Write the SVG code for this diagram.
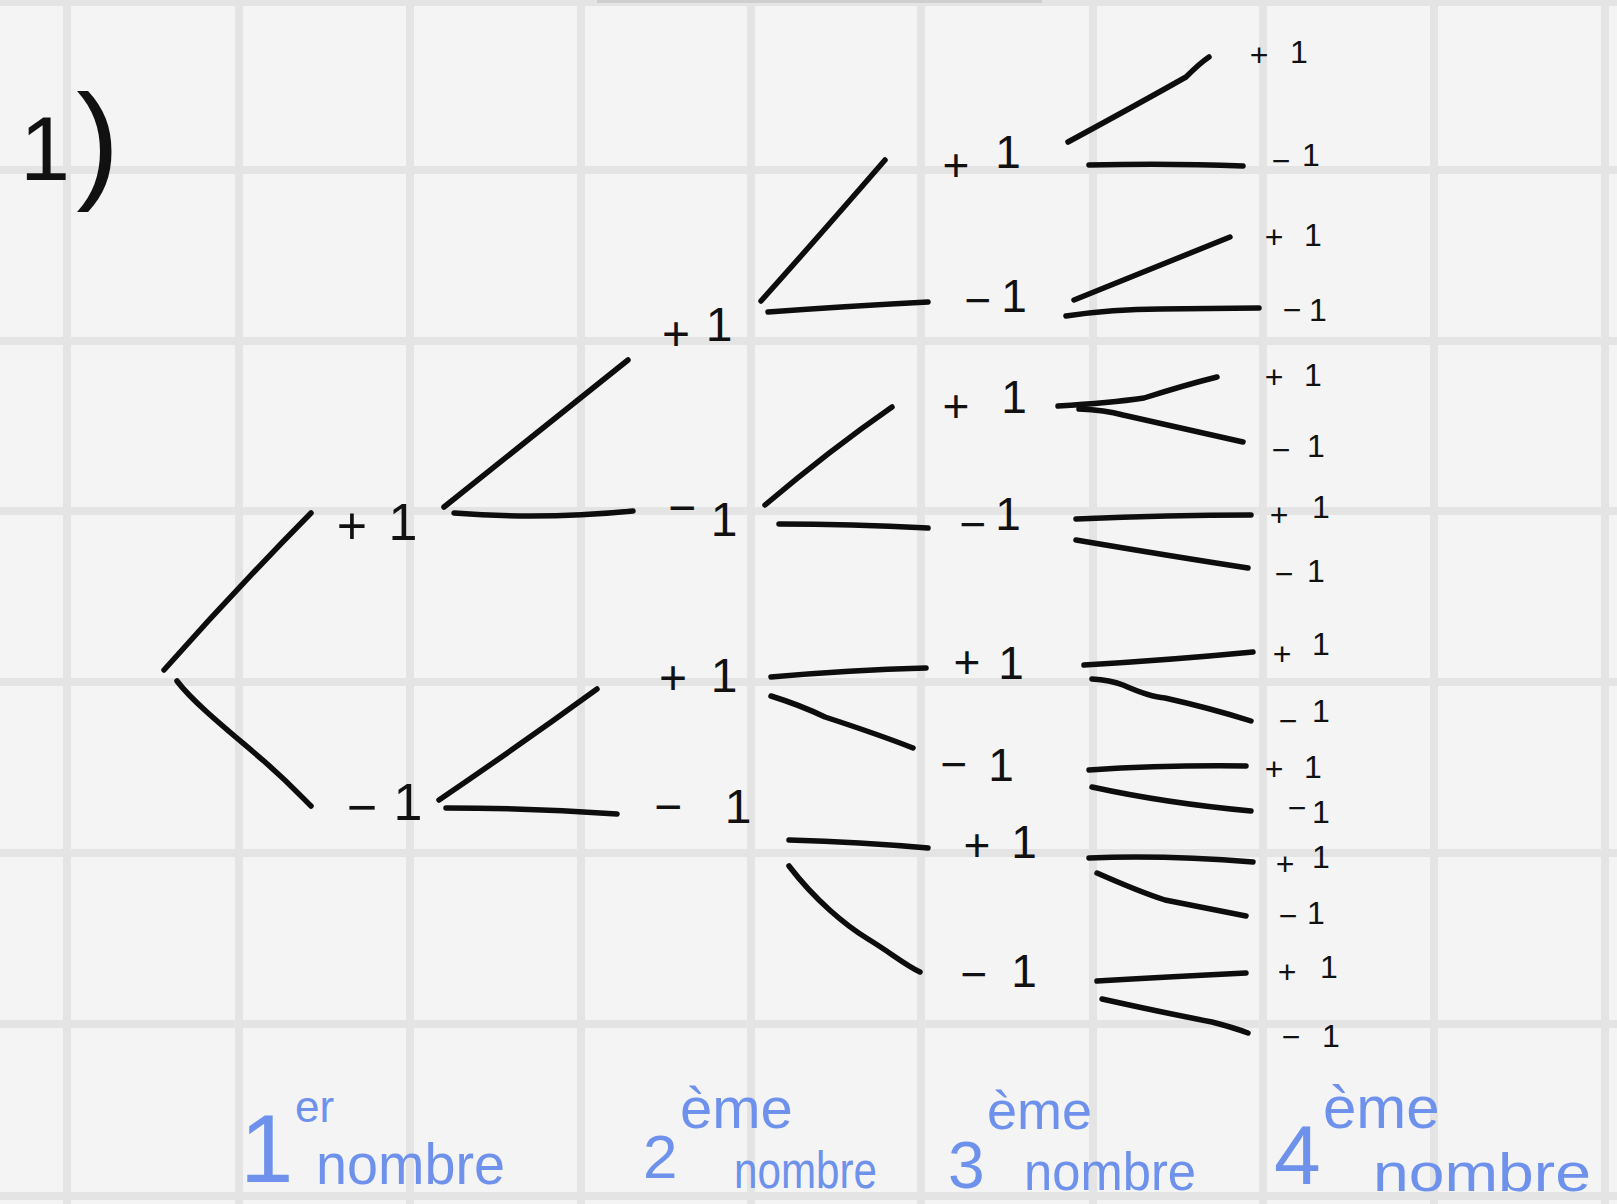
<svg xmlns="http://www.w3.org/2000/svg" width="1617" height="1204" viewBox="0 0 1617 1204">
<style>
.grid line{stroke:#e4e4e4;stroke-width:8}
.conn path{fill:none;stroke:#0d0d0d;stroke-width:5.5;stroke-linecap:round;stroke-linejoin:round}
.lbl{font-family:"Liberation Sans",Arial,sans-serif;fill:#111;text-anchor:middle}
.s1{font-size:52px}.s2{font-size:48px}.s3{font-size:46px}.s4{font-size:32px}
.blue{font-family:"Liberation Sans",Arial,sans-serif;fill:#6e91ec}
</style>
<rect width="1617" height="1204" fill="#f4f4f4"/>
<g class="grid">
<line x1="67" y1="0" x2="67" y2="1204"/><line x1="239" y1="0" x2="239" y2="1204"/><line x1="410" y1="0" x2="410" y2="1204"/><line x1="581" y1="0" x2="581" y2="1204"/><line x1="751" y1="0" x2="751" y2="1204"/><line x1="921" y1="0" x2="921" y2="1204"/><line x1="1093" y1="0" x2="1093" y2="1204"/><line x1="1263" y1="0" x2="1263" y2="1204"/><line x1="1434" y1="0" x2="1434" y2="1204"/><line x1="1605" y1="0" x2="1605" y2="1204"/>
<line x1="0" y1="2" x2="1617" y2="2"/><line x1="0" y1="170" x2="1617" y2="170"/><line x1="0" y1="341" x2="1617" y2="341"/><line x1="0" y1="511" x2="1617" y2="511"/><line x1="0" y1="682" x2="1617" y2="682"/><line x1="0" y1="853" x2="1617" y2="853"/><line x1="0" y1="1024" x2="1617" y2="1024"/><line x1="0" y1="1196" x2="1617" y2="1196"/>
</g>
<rect x="597" y="0" width="445" height="3" fill="#cfcfcf"/>

<g id="title"><text class="lbl" x="45" y="180" font-size="90">1<tspan x="98" y="185" font-size="130">)</tspan></text></g>

<g class="conn" id="connectors">
<path d="M164,670 Q235,590 311,513"/>
<path d="M177,681 C195,705 240,740 265,762 S300,795 311,806"/>
<path d="M444,507 L628,360"/>
<path d="M454,513 Q540,520 633,511"/>
<path d="M439,800 Q520,745 597,689"/>
<path d="M446,808 Q530,808 617,814"/>
<path d="M761,301 Q820,235 885,160"/>
<path d="M768,312 Q850,306 928,302"/>
<path d="M765,505 Q830,450 892,407"/>
<path d="M779,524 Q850,524 928,528"/>
<path d="M771,677 Q850,670 926,668"/>
<path d="M771,696 Q800,705 825,717 Q880,735 913,748"/>
<path d="M789,840 Q860,842 928,848"/>
<path d="M789,866 C815,900 845,925 868,939 S905,965 920,972"/>
<path d="M1068,142 Q1140,103 1186,77 Q1200,63 1209,57"/>
<path d="M1089,165 Q1170,163 1243,166"/>
<path d="M1074,300 L1230,237"/>
<path d="M1066,316 Q1113,309 1160,309 L1259,308"/>
<path d="M1058,406 Q1110,403 1144,398 Q1185,385 1217,377"/>
<path d="M1079,409 Q1105,410 1123,415 Q1190,430 1243,442"/>
<path d="M1076,519 Q1170,515 1251,515"/>
<path d="M1076,540 Q1170,556 1248,568"/>
<path d="M1084,665 Q1170,660 1253,652"/>
<path d="M1092,679 Q1110,680 1123,685 Q1150,697 1165,698 Q1210,708 1251,721"/>
<path d="M1089,770 Q1165,765 1246,766"/>
<path d="M1092,787 Q1165,803 1251,811"/>
<path d="M1089,858 Q1165,855 1253,862"/>
<path d="M1097,873 Q1140,892 1165,900 Q1215,910 1246,916"/>
<path d="M1097,981 Q1165,977 1246,973"/>
<path d="M1102,999 Q1165,1013 1212,1022 Q1235,1028 1248,1033"/>
</g>

<g id="n1p"><text class="lbl s1" x="352 403" y="544 540">+1</text></g>
<g id="n1m"><text class="lbl s1" x="362 408" y="825 820">−1</text></g>
<g id="n2pp"><text class="lbl s2" x="676 719" y="350 341">+1</text></g>
<g id="n2pm"><text class="lbl s2" x="682 724" y="524 536">−1</text></g>
<g id="n2mp"><text class="lbl s2" x="673 724" y="694 692">+1</text></g>
<g id="n2mm"><text class="lbl s2" x="668 738" y="823 823">−1</text></g>
<g id="n3a"><text class="lbl s3" x="956 1008" y="181 168">+1</text></g>
<g id="n3b"><text class="lbl s3" x="978 1014" y="316 312">−1</text></g>
<g id="n3c"><text class="lbl s3" x="956 1014" y="422 413">+1</text></g>
<g id="n3d"><text class="lbl s3" x="973 1008" y="540 530">−1</text></g>
<g id="n3e"><text class="lbl s3" x="967 1011" y="678 679">+1</text></g>
<g id="n3f"><text class="lbl s3" x="954 1001" y="780 781">−1</text></g>
<g id="n3g"><text class="lbl s3" x="977 1024" y="861 858">+1</text></g>
<g id="n3h"><text class="lbl s3" x="974 1024" y="990 987">−1</text></g>
<g id="n4a"><text class="lbl s4" x="1259 1299" y="66 63">+1</text></g>
<g id="n4b"><text class="lbl s4" x="1281 1311" y="172 166">−1</text></g>
<g id="n4c"><text class="lbl s4" x="1274 1313" y="248 246">+1</text></g>
<g id="n4d"><text class="lbl s4" x="1292 1318" y="321 321">−1</text></g>
<g id="n4e"><text class="lbl s4" x="1274 1313" y="388 386">+1</text></g>
<g id="n4f"><text class="lbl s4" x="1281 1316" y="461 457">−1</text></g>
<g id="n4g"><text class="lbl s4" x="1279 1321" y="526 518">+1</text></g>
<g id="n4h"><text class="lbl s4" x="1284 1316" y="585 582">−1</text></g>
<g id="n4i"><text class="lbl s4" x="1282 1321" y="665 655">+1</text></g>
<g id="n4j"><text class="lbl s4" x="1288 1321" y="732 722">−1</text></g>
<g id="n4k"><text class="lbl s4" x="1274 1313" y="780 778">+1</text></g>
<g id="n4l"><text class="lbl s4" x="1297 1321" y="819 823">−1</text></g>
<g id="n4m"><text class="lbl s4" x="1285 1321" y="875 868">+1</text></g>
<g id="n4n"><text class="lbl s4" x="1288 1316" y="927 924">−1</text></g>
<g id="n4o"><text class="lbl s4" x="1287 1329" y="983 978">+1</text></g>
<g id="n4p"><text class="lbl s4" x="1291 1331" y="1048 1047">−1</text></g>

<g id="col1"><text class="blue"><tspan x="240" y="1182" font-size="96">1</tspan><tspan x="295" y="1122" font-size="44">er</tspan></text>
<text class="blue" x="316" y="1184" font-size="58" textLength="189" lengthAdjust="spacingAndGlyphs">nombre</text></g>
<g id="col2"><text class="blue"><tspan x="643" y="1178" font-size="62">2</tspan><tspan x="680" y="1128" font-size="58">ème</tspan></text>
<text class="blue" x="734" y="1188" font-size="52" textLength="143" lengthAdjust="spacingAndGlyphs">nombre</text></g>
<g id="col3"><text class="blue"><tspan x="948" y="1188" font-size="66">3</tspan><tspan x="987" y="1129" font-size="54">ème</tspan></text>
<text class="blue" x="1024" y="1190" font-size="54" textLength="172" lengthAdjust="spacingAndGlyphs">nombre</text></g>
<g id="col4"><text class="blue"><tspan x="1274" y="1184" font-size="84">4</tspan><tspan x="1323" y="1128" font-size="60">ème</tspan></text>
<text class="blue" x="1373" y="1191" font-size="54" textLength="218" lengthAdjust="spacingAndGlyphs">nombre</text></g>
</svg>
